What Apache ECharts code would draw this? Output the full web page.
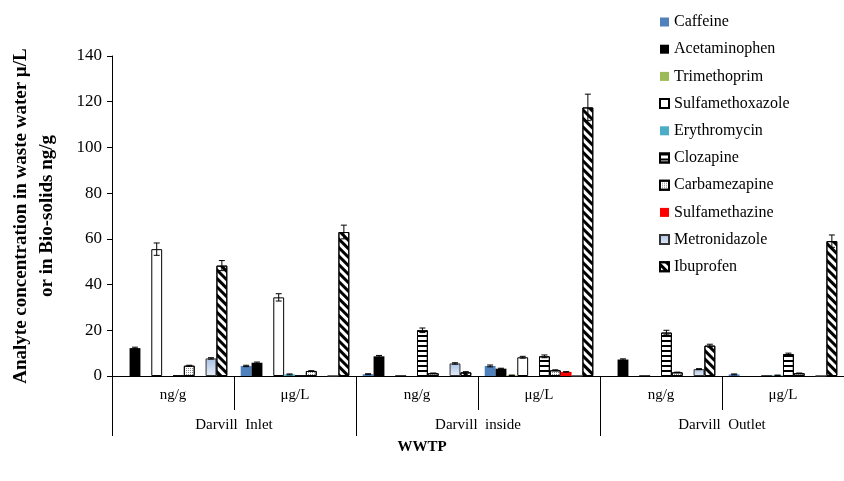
<!DOCTYPE html>
<html>
<head>
<meta charset="utf-8">
<script src="https://cdn.jsdelivr.net/npm/echarts@6/dist/echarts.min.js"></script>
<style>html,body{margin:0;padding:0;background:#fff}#c{width:844px;height:481px}</style>
</head>
<body>
<div id="c"></div>
<script>
// ---- data ----
const subCategories = ['ng/g', 'μg/L', 'ng/g', 'μg/L', 'ng/g', 'μg/L'];
const sites = ['Darvill  Inlet', 'Darvill  inside', 'Darvill  Outlet'];
const analytes = ['Caffeine', 'Acetaminophen', 'Trimethoprim', 'Sulfamethoxazole', 'Erythromycin',
  'Clozapine', 'Carbamezapine', 'Sulfamethazine', 'Metronidazole', 'Ibuprofen'];
const caffeine         = [0, 4.4, 0.8, 4.4, 0, 0.7];
const acetaminophen    = [12.2, 5.8, 8.6, 3.2, 7.2, 0];
const trimethoprim     = [0, 0, 0, 0.3, 0, 0];
const sulfamethoxazole = [55.5, 34.4, 0, 8.2, 0, 0];
const erythromycin     = [0, 0.7, 0, 0, 0, 0.3];
const clozapine        = [0, 0, 20.0, 8.6, 19.0, 9.6];
const carbamezapine    = [4.5, 2.2, 1.2, 2.5, 1.6, 1.2];
const sulfamethazine   = [0, 0, 0, 1.8, 0, 0];
const metronidazole    = [7.7, 0, 5.5, 0, 3.0, 0];
const ibuprofen        = [48.3, 63.0, 1.6, 117.5, 13.3, 59.0];
// error (±)
const errCaffeine         = [0, 0.3, 0.2, 0.4, 0, 0.2];
const errAcetaminophen    = [0.4, 0.3, 0.4, 0.2, 0.3, 0];
const errTrimethoprim     = [0, 0, 0, 0.1, 0, 0];
const errSulfamethoxazole = [2.7, 1.6, 0, 0.4, 0, 0];
const errErythromycin     = [0, 0.2, 0, 0, 0, 0.1];
const errClozapine        = [0, 0, 1.0, 0.6, 1.0, 0.4];
const errCarbamezapine    = [0.2, 0.1, 0.1, 0.2, 0.1, 0.1];
const errSulfamethazine   = [0, 0, 0, 0.1, 0, 0];
const errMetronidazole    = [0.3, 0, 0.3, 0, 0.2, 0];
const errIbuprofen        = [2.2, 3.0, 0.3, 5.8, 0.6, 2.7];
const yTicks = [0, 20, 40, 60, 80, 100, 120, 140];

const values = [caffeine, acetaminophen, trimethoprim, sulfamethoxazole, erythromycin,
  clozapine, carbamezapine, sulfamethazine, metronidazole, ibuprofen];
const errors = [errCaffeine, errAcetaminophen, errTrimethoprim, errSulfamethoxazole, errErythromycin,
  errClozapine, errCarbamezapine, errSulfamethazine, errMetronidazole, errIbuprofen];

// ---- styles ----
const SERIF = '"Liberation Serif", "Times New Roman", serif';
const GAP = 0.11;
const styles = [
  { color: '#4F81BD' },
  { color: '#000000' },
  { color: '#9BBB59' },
  { color: '#FFFFFF', borderColor: '#000', borderWidth: 1 },
  { color: '#4BACC6' },
  { color: '#FFFFFF', borderColor: '#000', borderWidth: 1,
    decal: { symbol: 'rect', symbolSize: 1, dashArrayX: [1, 0], dashArrayY: [1.3, 2.4], rotation: 0, color: '#000' } },
  { color: '#FFFFFF', borderColor: '#000', borderWidth: 1,
    decal: { symbol: 'rect', symbolSize: 1, dashArrayX: [1, 1], dashArrayY: [1, 1], rotation: 0, color: '#8a8a8a' } },
  { color: '#FF0000' },
  { color: new echarts.graphic.LinearGradient(0, 0, 0, 1, [{ offset: 0, color: '#a9c1e3' }, { offset: 1, color: '#e6eef9' }]),
    borderColor: '#333', borderWidth: 1 },
  { color: '#FFFFFF', borderColor: '#000', borderWidth: 1,
    decal: { symbol: 'rect', symbolSize: 1, dashArrayX: [1, 0], dashArrayY: [2.5, 2.5], rotation: Math.PI / 4, color: '#000' } }
];

const barSeries = analytes.map((name, s) => ({
  name, type: 'bar', xAxisIndex: 0, yAxisIndex: 0,
  barGap: '0%', barCategoryGap: (GAP * 100) + '%',
  itemStyle: styles[s],
  data: values[s],
  animation: false
}));

const errData = [];
values.forEach((arr, s) => arr.forEach((v, c) => {
  if (v > 0 && errors[s][c] > 0) errData.push([c, v, errors[s][c], s]);
}));

const errSeries = {
  type: 'custom', xAxisIndex: 0, yAxisIndex: 0, z: 5, silent: true, animation: false,
  encode: { x: 0, y: 1 },
  data: errData,
  renderItem(params, api) {
    const cat = api.value(0), v = api.value(1), e = api.value(2), s = api.value(3);
    const band = api.size([1, 0])[0];
    const barW = band * (1 - GAP) / analytes.length;
    const center = api.coord([cat, v]);
    const x = center[0] - band * (1 - GAP) / 2 + (s + 0.5) * barW;
    const yt = api.coord([cat, v + e])[1];
    const yb = api.coord([cat, Math.max(0, v - e)])[1];
    const cap = 3;
    const st = { stroke: '#000', lineWidth: 1 };
    return { type: 'group', children: [
      { type: 'line', shape: { x1: x, y1: yt, x2: x, y2: yb }, style: st },
      { type: 'line', shape: { x1: x - cap, y1: yt, x2: x + cap, y2: yt }, style: st },
      { type: 'line', shape: { x1: x - cap, y1: yb, x2: x + cap, y2: yb }, style: st }
    ]};
  }
};

const chart = echarts.init(document.getElementById('c'), null, { renderer: 'canvas' });
chart.setOption({
  backgroundColor: '#fff',
  animation: false,
  grid: { left: 111, right: -11, top: 56, bottom: 105, containLabel: false },
  legend: {
    data: analytes, orient: 'vertical', left: 659, top: 14, padding: 0,
    icon: 'rect', itemWidth: 9, itemHeight: 9, itemGap: 11.2,
    textStyle: { fontFamily: SERIF, fontSize: 16, color: '#000', lineHeight: 16 },
    selectedMode: false
  },
  xAxis: [
    { type: 'category', position: 'bottom',
      data: subCategories.map((s, i) => s + '|' + i),
      axisLine: { show: true, lineStyle: { color: '#000', width: 1 } },
      axisTick: { show: true, interval: 0, length: 34, lineStyle: { color: '#000' } },
      axisLabel: { interval: 0, margin: 12, fontFamily: SERIF, fontSize: 15, color: '#000',
        formatter: v => v.split('|')[0] },
      splitLine: { show: false } },
    { type: 'category', position: 'bottom', data: sites,
      axisLine: { show: false },
      axisTick: { show: true, interval: 0, length: 60, lineStyle: { color: '#000' } },
      axisLabel: { interval: 0, margin: 42, fontFamily: SERIF, fontSize: 15, color: '#000' },
      splitLine: { show: false } }
  ],
  yAxis: {
    type: 'value', min: yTicks[0], max: yTicks[yTicks.length - 1], interval: 20,
    axisLine: { show: true, lineStyle: { color: '#000', width: 1 } },
    axisTick: { show: true, length: 5, lineStyle: { color: '#000' } },
    axisLabel: { margin: 10, fontFamily: SERIF, fontSize: 17, color: '#000' },
    splitLine: { show: false },
    name: 'Analyte concentration in waste water µ/L\nor in Bio-solids ng/g',
    nameLocation: 'middle', nameRotate: 90, nameGap: 52,
    nameTextStyle: { fontFamily: SERIF, fontSize: 19, fontWeight: 'bold', color: '#000', lineHeight: 26, align: 'center' }
  },
  graphic: [{
    type: 'text', left: 'center', top: 440,
    style: { text: 'WWTP', fontFamily: SERIF, fontSize: 15, fontWeight: 'bold', fill: '#000' },
    x: -8
  }],
  series: barSeries.concat([errSeries])
});
</script>
</body>
</html>
